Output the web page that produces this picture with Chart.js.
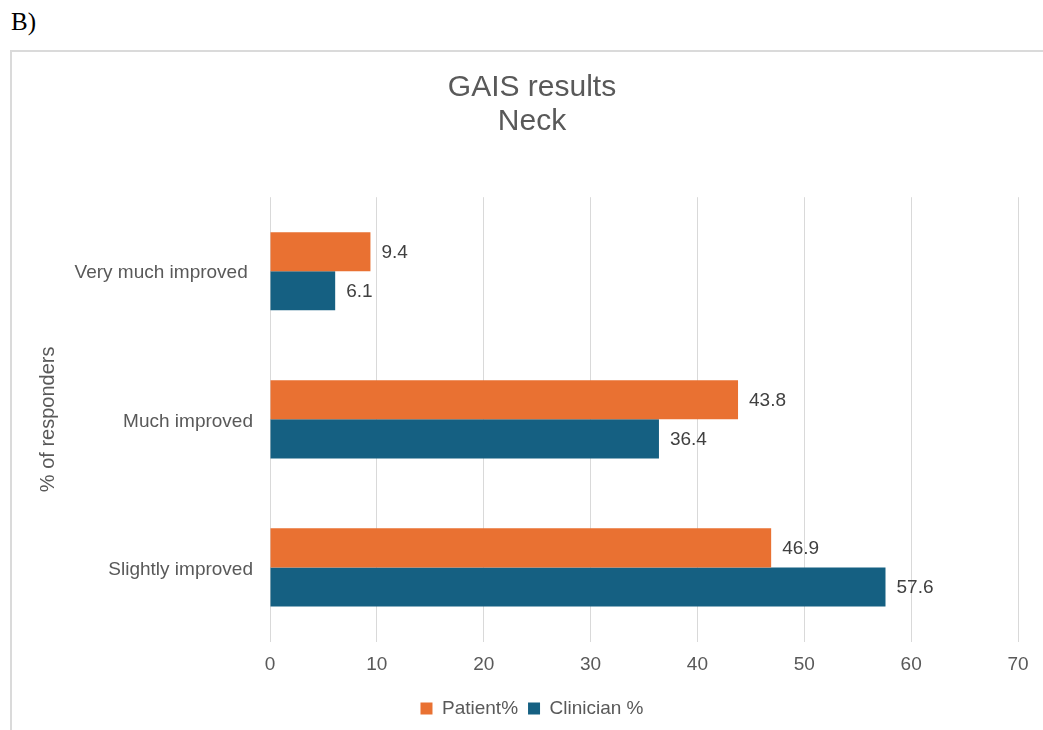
<!DOCTYPE html>
<html>
<head>
<meta charset="utf-8">
<script src="https://cdn.jsdelivr.net/npm/chart.js@4.4.0/dist/chart.umd.min.js"></script>
<style>
  html, body { margin: 0; padding: 0; background: #fff; overflow: hidden; }
  body { width: 1043px; height: 730px; position: relative; }
  #tag { position: absolute; left: 11px; top: 8px; font: 25px "Liberation Serif", "Times New Roman", serif; color: #000; }
  #frame { position: absolute; left: 10px; top: 50px; width: 1060px; height: 700px; border: 2px solid #dadada; box-sizing: border-box; }
  #wrap { position: absolute; left: 10px; top: 50px; width: 1044px; height: 678px; }
</style>
</head>
<body>
<div id="tag">B)</div>
<div id="frame"></div>
<div id="wrap"><canvas id="myChart" width="1044" height="678"></canvas></div>
<script>
const categories = ['Very much improved ', 'Much improved', 'Slightly improved'];
const patient = [9.4, 43.8, 46.9];
const clinician = [6.1, 36.4, 57.6];
const seriesNames = ['Patient%', 'Clinician %'];
const xTicks = [0, 10, 20, 30, 40, 50, 60, 70];

const font = 'Liberation Sans, Arial, sans-serif';

// writes the value next to the end of every bar
const barValues = {
  id: 'barValues',
  afterDatasetsDraw(chart) {
    const ctx = chart.ctx;
    ctx.save();
    ctx.font = '19px ' + font;
    ctx.fillStyle = '#404040';
    ctx.textAlign = 'left';
    ctx.textBaseline = 'middle';
    chart.data.datasets.forEach((ds, i) => {
      chart.getDatasetMeta(i).data.forEach((bar, j) => {
        ctx.fillText(ds.data[j].toFixed(1), bar.x + 11, bar.y + 1);
      });
    });
    ctx.restore();
  }
};

const ctx = document.getElementById('myChart');

new Chart(ctx, {
  type: 'bar',
  data: {
    labels: categories,
    datasets: [{
      label: seriesNames[0],
      data: patient,
      backgroundColor: '#E97132'
    }, {
      label: seriesNames[1],
      data: clinician,
      backgroundColor: '#156082'
    }]
  },
  options: {
    indexAxis: 'y',
    responsive: false,
    animation: false,
    categoryPercentage: 0.528,
    barPercentage: 1,
    layout: { padding: { left: 0, right: 0, top: 0, bottom: 0 } },
    scales: {
      x: {
        min: xTicks[0],
        max: xTicks[xTicks.length - 1],
        afterBuildTicks(axis) { axis.ticks = xTicks.map(v => ({ value: v })); },
        afterFit(axis) { axis.height = 47.5; },
        border: { display: false },
        grid: { color: '#d9d9d9', drawTicks: false },
        ticks: { padding: 12, color: '#595959', font: { family: font, size: 19 } }
      },
      y: {
        afterFit(axis) { axis.width = 260; },
        border: { display: false },
        grid: { display: false, drawTicks: false },
        ticks: { padding: 17, labelOffset: 2, color: '#595959', font: { family: font, size: 19 } },
        title: {
          display: true,
          text: '% of responders',
          color: '#595959',
          font: { family: font, size: 20 },
          padding: { top: 26, bottom: 0 }
        }
      },
      yRight: {
        type: 'category',
        position: 'right',
        afterFit(axis) { axis.width = 36; },
        border: { display: false },
        grid: { display: false, drawTicks: false },
        ticks: { display: false }
      }
    },
    plugins: {
      title: {
        display: true,
        text: ['GAIS results', 'Neck'],
        color: '#595959',
        font: { family: font, size: 30, weight: 'normal', lineHeight: 1.12 },
        padding: { top: 21, bottom: 59 }
      },
      legend: {
        position: 'bottom',
        labels: {
          boxWidth: 12,
          boxHeight: 12,
          padding: 10,
          color: '#595959',
          font: { family: font, size: 19 }
        }
      },
      tooltip: { enabled: false }
    }
  },
  plugins: [barValues]
});
</script>
</body>
</html>
